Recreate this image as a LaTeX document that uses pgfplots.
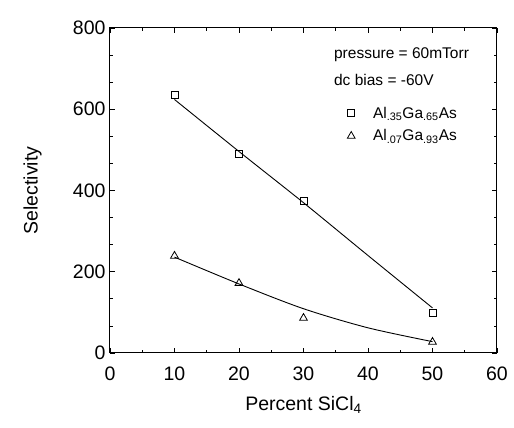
\documentclass[border=0pt]{standalone}
\usepackage{fontspec}
\setmainfont{Liberation Sans}
\usepackage{pgfplots}
\pgfplotsset{compat=1.18}

\begin{document}
\begin{tikzpicture}
  \begin{axis}[
      scale only axis,
      width=387pt, height=325pt,
      xmin=0, xmax=60, ymin=0, ymax=800,
      xtick={0,10,20,30,40,50,60},
      ytick={0,200,400,600,800},
      minor x tick num=1,
      minor y tick num=2,
      tick align=inside,
      major tick length=5pt, minor tick length=3pt,
      axis line style={line width=1pt},
      tick style={line width=0.8pt, black},
      /pgf/number format/assume math mode=true,
      ticklabel style={font=\fontsize{19.5}{22}\selectfont},
      xticklabel style={yshift=-10pt},
      yticklabel style={xshift=-1pt},
      xlabel={Percent SiCl\textsubscript{4}},
      ylabel={Selectivity},
      label style={font=\fontsize{19.5}{22}\selectfont},
      xlabel style={at={(axis description cs:0.5,-0.16)}, anchor=center},
      ylabel style={at={(axis description cs:-0.2,0.5)}, anchor=center},
      legend style={at={(axis cs:36.3,616)}, anchor=north west,
                    draw=none, fill=none, font=\fontsize{15.5}{18}\selectfont,
                    row sep=6pt, cells={anchor=west}},
      legend cell align=left,
    ]
    % fitted curves
    \addplot[black, line width=0.9pt, smooth, forget plot]
      coordinates {(10,624) (20,496) (30,370) (40,240) (50,111)};
    \addplot[black, line width=0.9pt, smooth, forget plot]
      coordinates {(10,236) (20,170) (30,109) (40,62) (50,28)};
    % data
    \addplot[only marks, mark=square, mark size=3.5pt, black, thick]
      coordinates {(10,635) (20,490) (30,374) (50,98)};
    \addlegendentry{\hspace{16pt}Al\textsubscript{.35}Ga\textsubscript{.65}As}
    \addplot[only marks, mark=triangle, mark size=4.5pt, black, thick]
      coordinates {(10,239) (20,172) (30,86) (50,27)};
    \addlegendentry{\hspace{16pt}Al\textsubscript{.07}Ga\textsubscript{.93}As}
    \node[anchor=west, font=\fontsize{15.5}{18}\selectfont]
      at (axis cs:34.2,734) {pressure = 60mTorr};
    \node[anchor=west, font=\fontsize{15.5}{18}\selectfont]
      at (axis cs:34.2,672) {dc bias = -60V};
  \end{axis}
  \path (-110pt,-75pt) rectangle (404pt,353pt);
\end{tikzpicture}
\end{document}
